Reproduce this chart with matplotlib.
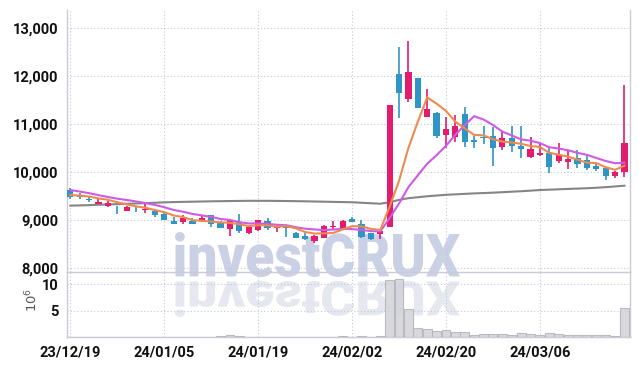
import matplotlib
matplotlib.use("Agg")
import matplotlib.pyplot as plt
import numpy as np
from matplotlib.textpath import TextPath
from matplotlib.patches import PathPatch
from matplotlib.font_manager import FontProperties
from matplotlib.transforms import Affine2D

# daily candles, 23/12/19 .. 24/03/19 (60 trading days)
opens = [9620, 9510, 9440, 9340, 9290, 9240, 9190, 9210, 9200, 9190,
         9130, 8990, 8960, 8990, 8990, 9100, 8960, 8810, 8960, 8730,
         8790, 8980, 8830, 8860, 8740, 8660, 8560, 8630, 8850, 8830,
         9020, 8920, 8720, 8710, 8850, 12040, 11520, 11950, 11150, 11230,
         10770, 10730, 11210, 10660, 10730, 10750, 10520, 10710, 10540, 10310,
         10350, 10400, 10230, 10210, 10290, 10250, 10130, 10080, 9920, 10000]
highs = [9660, 9560, 9480, 9450, 9390, 9290, 9290, 9300, 9380, 9230,
         9140, 9060, 9100, 9040, 9100, 9110, 8980, 9010, 9120, 8880,
         9010, 9040, 8890, 8880, 8760, 8730, 8680, 8890, 8980, 9000,
         9070, 9000, 8730, 8780, 11400, 12600, 12730, 11960, 11730, 11260,
         11150, 11190, 11350, 10750, 10960, 10940, 10830, 10960, 10960, 10730,
         10600, 10500, 10600, 10460, 10460, 10350, 10170, 10090, 10020, 11810]
lows = [9440, 9430, 9380, 9330, 9270, 9120, 9180, 9170, 9150, 9060,
        9000, 8910, 8920, 8910, 8950, 8860, 8830, 8670, 8730, 8700,
        8780, 8790, 8750, 8650, 8620, 8590, 8520, 8620, 8800, 8820,
        8950, 8630, 8590, 8600, 8850, 11130, 11460, 11330, 11140, 10710,
        10500, 10630, 10520, 10500, 10580, 10130, 10460, 10420, 10290, 10300,
        10330, 9980, 10190, 10060, 10080, 10040, 10020, 9830, 9880, 9900]
closes = [9480, 9490, 9410, 9380, 9350, 9220, 9270, 9200, 9240, 9110,
          9000, 8920, 9040, 8920, 9040, 8920, 8830, 9000, 8770, 8850,
          9000, 8830, 8850, 8830, 8630, 8610, 8670, 8870, 8880, 8980,
          8960, 8650, 8610, 8770, 11400, 11650, 12080, 11330, 11310, 10750,
          10900, 10960, 10630, 10620, 10710, 10500, 10710, 10540, 10480, 10480,
          10400, 10100, 10350, 10270, 10170, 10080, 10060, 9920, 10000, 10600]
# closes of the 9 sessions before the window (needed for the moving averages)
prior_closes = [9800, 9760, 9790, 9730, 9570, 9540, 9510, 9580, 9490]
# long moving average (grey line)
ma_long = [9300, 9305, 9310, 9318, 9325, 9330, 9338, 9345, 9352, 9360,
           9368, 9374, 9378, 9382, 9386, 9390, 9393, 9396, 9398, 9400,
           9400, 9400, 9398, 9396, 9393, 9390, 9386, 9382, 9378, 9374,
           9370, 9360, 9350, 9340, 9370, 9420, 9455, 9475, 9495, 9510,
           9525, 9535, 9545, 9555, 9562, 9570, 9580, 9590, 9600, 9612,
           9625, 9632, 9640, 9648, 9655, 9662, 9672, 9685, 9700, 9715]
# volume in millions
volume = [0.08, 0.06, 0.05, 0.07, 0.06, 0.08, 0.05, 0.06, 0.07, 0.06,
          0.08, 0.06, 0.05, 0.07, 0.06, 0.08, 0.1, 0.3, 0.28, 0.08,
          0.06, 0.07, 0.05, 0.06, 0.08, 0.07, 0.06, 0.08, 0.07, 0.1,
          0.08, 0.22, 0.08, 0.1, 10.7, 11.05, 5.3, 1.67, 1.48, 1.1,
          1.3, 0.87, 0.87, 0.3, 0.5, 0.5, 0.5, 0.3, 0.68, 0.5,
          0.3, 0.68, 0.5, 0.3, 0.3, 0.3, 0.3, 0.3, 0.12, 5.5]
tick_idx = [0, 10, 20, 30, 40, 50]
tick_labels = ['23/12/19', '24/01/05', '24/01/19', '24/02/02', '24/02/20', '24/03/06']
price_ticks = [8000, 9000, 10000, 11000, 12000, 13000]
vol_ticks = [5, 10]

UP = '#e31c6e'
DOWN = '#2f95c7'
GRID = '#c3c8dc'
SPINE = '#c9cbd6'
FONT = ['Roboto', 'DejaVu Sans']

o = np.array(opens); h = np.array(highs); l = np.array(lows); c = np.array(closes)
x = np.arange(len(c))
allc = np.array(prior_closes + closes, dtype=float)
ma5 = np.convolve(allc, np.ones(5) / 5, mode='valid')[-len(c):]
ma10 = np.convolve(allc, np.ones(10) / 10, mode='valid')[-len(c):]

fig = plt.figure(figsize=(6.39, 3.66), dpi=100, facecolor='white')
ax = fig.add_axes([0.1049, 0.2568, 0.8811, 0.7158])
axv = fig.add_axes([0.1049, 0.0792, 0.8811, 0.1776], sharex=ax)
for a in (ax, axv):
    a.set_facecolor('none')

# watermark + its reflection, drawn behind the axes (pixel coordinates)
H = 366
fp = FontProperties(family=['Roboto', 'DejaVu Sans'], weight=900)
tp = TextPath((0, 0), 'investCRUX', prop=fp, size=100)
ext = tp.get_extents()
sx = 285 / ext.width
sy = 45 / ext.height
wm = PathPatch(tp, transform=Affine2D().translate(-ext.x0, -ext.y0).scale(sx, sy).translate(175, H - 277),
               facecolor='#cad1e5', edgecolor='none', zorder=-5)
fig.add_artist(wm)
rf = PathPatch(tp, transform=Affine2D().translate(-ext.x0, -ext.y0).scale(sx, -sy * 0.8).translate(175, H - 281),
               facecolor='#e6e8f0', edgecolor='none', zorder=-5)
fig.add_artist(rf)

# candles
up = c >= o
col = np.where(up, UP, DOWN)
ax.vlines(x, l, h, colors=col, linewidth=1.2, zorder=3)
body_h = np.maximum(np.abs(c - o), 15)
ax.bar(x, body_h, bottom=np.minimum(o, c), width=0.66, color=col, linewidth=0, zorder=4)

ax.plot(x, ma_long, color='#858585', linewidth=1.5, zorder=2)
ax.plot(x, ma10, color='#cf5ae6', linewidth=1.5, zorder=5)
ax.plot(x, ma5, color='#ef8a4f', linewidth=1.5, zorder=5)

axv.bar(x, volume, width=0.95, color='#d4d4da', edgecolor='#b5b5bd', linewidth=0.8, alpha=0.9, zorder=3)

ax.set_ylim(7917, 13375)
axv.set_ylim(0, 12.3)
ax.set_xlim(-0.35, 59.6)

ax.set_yticks(price_ticks)
ax.set_yticklabels([f'{v:,}' for v in price_ticks])
axv.set_yticks(vol_ticks)
axv.set_yticklabels([str(v) for v in vol_ticks])
axv.set_xticks(tick_idx)
axv.set_xticklabels(tick_labels)
ax.tick_params(axis='x', labelbottom=False, length=0)

for a in (ax, axv):
    a.grid(True, color=GRID, linestyle=(0, (1, 2)), linewidth=0.8)
    a.set_axisbelow(True)
    a.tick_params(axis='both', length=0, pad=6, labelsize=10.5, labelcolor='#111111')
    for lab in a.get_xticklabels() + a.get_yticklabels():
        lab.set_family(FONT)
        lab.set_fontweight('bold')
    a.spines['top'].set_visible(False)
    for sp in ('left', 'bottom', 'right'):
        a.spines[sp].set_color(SPINE)
        a.spines[sp].set_linewidth(1.0)

fig.text(0.05, 0.18, '10$^6$', rotation=90, ha='center', va='center', fontsize=9.5, color='#555555')

fig.savefig('out.png', dpi=100, facecolor='white')
